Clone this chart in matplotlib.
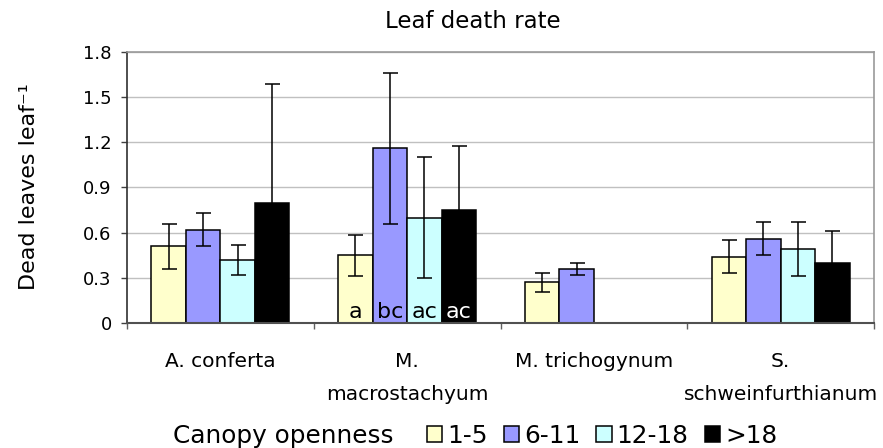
import numpy as np
import matplotlib
matplotlib.use("Agg")
import matplotlib.pyplot as plt

plt.rcParams['font.family'] = ['DejaVu Sans']

categories = ['A. conferta', 'M.\nmacrostachyum', 'M. trichogynum', 'S.\nschweinfurthianum']
series = ['1-5', '6-11', '12-18', '>18']
colors = ['#FFFFCC', '#9999FF', '#CCFFFF', '#000000']
nan = np.nan
values = [
    [0.51, 0.45, 0.27, 0.44],
    [0.62, 1.16, 0.36, 0.56],
    [0.42, 0.70, nan, 0.49],
    [0.80, 0.75, nan, 0.40],
]
errors = [
    [0.15, 0.135, 0.063, 0.11],
    [0.11, 0.50, 0.038, 0.11],
    [0.10, 0.40, nan, 0.18],
    [0.79, 0.425, nan, 0.21],
]
letters_group = 1
letters = ['a', 'bc', 'ac', 'ac']
yticks = [0, 0.3, 0.6, 0.9, 1.2, 1.5, 1.8]
ytick_labels = ['0', '0.3', '0.6', '0.9', '1.2', '1.5', '1.8']

W, H = 883, 448
fig = plt.figure(figsize=(W / 100, H / 100), dpi=100)
ax = fig.add_axes([127 / W, 1 - 323 / H, (874 - 127) / W, (323 - 52) / H])

x = np.arange(len(categories))
bw = 0.1845
offsets = (np.arange(4) - 1.5) * bw
for i in range(4):
    ax.bar(x + offsets[i], values[i], bw, color=colors[i], edgecolor='black',
           linewidth=1.1, label=series[i], zorder=2)
    ax.errorbar(x + offsets[i], values[i], yerr=errors[i], fmt='none',
                ecolor='black', elinewidth=1.1, capsize=5.4, capthick=1.1, zorder=3)

for i, lab in enumerate(letters):
    ax.text(letters_group + offsets[i], 0.03, lab, ha='center', va='baseline',
            fontsize=16, color='white' if colors[i] == '#000000' else 'black', zorder=4)

ax.set_xlim(-0.5, 3.5)
ax.set_ylim(0, 1.8)
ax.set_yticks(yticks)
ax.set_yticklabels(ytick_labels, fontsize=13)
ax.yaxis.grid(True, color='#c0c0c0', linewidth=1)
ax.set_axisbelow(True)
ax.tick_params(axis='y', direction='out', length=4, width=1, color='#404040', pad=7)

ax.set_xticks(x)
ax.set_xticklabels(categories, fontsize=14.5, linespacing=1.95)
ax.set_xticks(np.arange(-0.5, 4, 1), minor=True)
ax.tick_params(axis='x', which='major', length=0, pad=21)
ax.tick_params(axis='x', which='minor', direction='out', length=4, width=1, color='#606060')

for s in ['top', 'right']:
    ax.spines[s].set_color('#999999')
    ax.spines[s].set_linewidth(1.2)
ax.spines['left'].set_color('#303030')
ax.spines['bottom'].set_color('#505050')
ax.spines['left'].set_linewidth(1.2)
ax.spines['bottom'].set_linewidth(1.5)

fig.text(473 / W, 1 - 22 / H, 'Leaf death rate', fontsize=16.5, ha='center', va='center')
ax.set_ylabel('Dead leaves leaf\u207b\u00b9', fontsize=16)
ax.yaxis.set_label_coords((39 - 127) / 747, 0.505)

fig.text(173 / W, 1 - 436 / H, 'Canopy openness', fontsize=17.8, ha='left', va='center')
ax.legend(loc='center left', bbox_to_anchor=(427 / W, 1 - 436 / H), bbox_transform=fig.transFigure,
          ncol=4, frameon=False, fontsize=17.8, handlelength=0.62, handleheight=0.62,
          handletextpad=0.2, columnspacing=0.65, borderpad=0, borderaxespad=0)

fig.savefig('out.png', dpi=100)
